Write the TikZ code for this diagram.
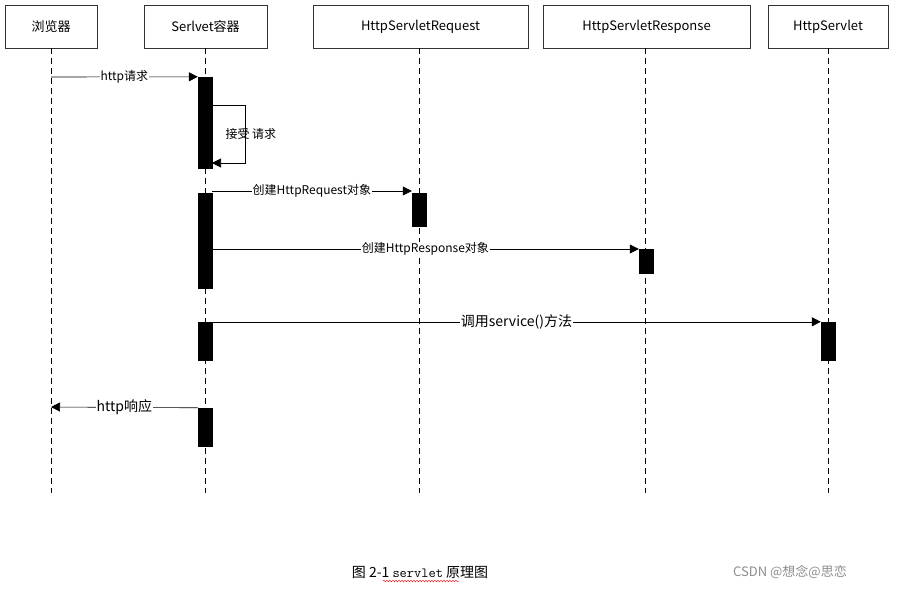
\documentclass[tikz,border=0pt]{standalone}
\usepackage{fontspec}
\setmainfont{Noto Sans CJK SC}
\usetikzlibrary{arrows.meta,decorations.pathmorphing}
\begin{document}
\begin{tikzpicture}[x=1pt,y=-1pt,
  hbox/.style={draw=black!80,line width=0.8pt,minimum height=43pt,inner sep=0pt,font=\fontsize{13}{15}\selectfont},
  life/.style={line width=0.8pt,dash pattern=on 6pt off 4pt},
  act/.style={fill=black,draw=black,minimum width=14pt,inner sep=0pt},
  msg/.style={line width=0.6pt,-{Triangle[length=9pt,width=9pt]}},
  lbl/.style={fill=white,inner sep=1pt,font=\fontsize{12}{14}\selectfont}]
\useasboundingbox (0,0) rectangle (898,591);
\node[hbox,minimum width=92pt] (b) at (51,26.5) {浏览器};
\node[hbox,minimum width=123pt] (s) at (205.5,26.5) {Serlvet容器};
\node[hbox,minimum width=215pt] (rq) at (420.5,26.5) {HttpServletRequest};
\node[hbox,minimum width=207pt] (rs) at (646.5,26.5) {HttpServletResponse};
\node[hbox,minimum width=120pt] (hs) at (828,26.5) {HttpServlet};
\foreach \n/\x in {b/51,s/205,rq/419,rs/645,hs/828}{
  \coordinate (e\n) at (\x,493);
  \draw[life] (\x,48) -- (e\n);
}
\node[act,minimum height=91pt] (a1) at (205,122.5) {};
\node[act,minimum height=95pt] (a2) at (205,240.5) {};
\node[act,minimum height=38pt] (a3) at (205,341) {};
\node[act,minimum height=38pt] (a4) at (205,427) {};
\node[act,minimum height=33pt] (q1) at (419,209.5) {};
\node[act,minimum height=24pt] (r1) at (646,261) {};
\node[act,minimum height=38pt] (h1) at (828,341) {};
\coordinate (bb1) at (51,77);
\coordinate (bb2) at (51,407);
\draw[msg] (bb1) -- node[lbl]{http请求} (a1.north west);
\coordinate (l1) at (212,105);
\coordinate (l2) at (245,105);
\coordinate (l3) at (245,163);
\coordinate (l4) at (212,163);
\draw[msg] (l1) -- (l2) -- (l3) -- (l4);
\node[font=\fontsize{12}{14}\selectfont,anchor=west] (t1) at (222,134) {接受 请求};
\coordinate (c1) at (212,191);
\draw[msg] (c1) -- node[lbl]{创建HttpRequest对象} (c1 -| q1.west);
\coordinate (c2) at (212,249);
\draw[msg] (c2) -- node[lbl]{创建HttpResponse对象} (c2 -| r1.west);
\draw[msg] (a3.north east) -- node[lbl,font=\fontsize{14}{16}\selectfont]{调用service()方法} (h1.north west);
\draw[msg] (a4.north west) -- node[lbl,font=\fontsize{14}{16}\selectfont]{http响应} (bb2);
\node[font=\fontsize{14}{16}\selectfont] (cap) at (420,572) {图 2-1 \texttt{servlet} 原理图};
\draw[red,line width=0.4pt,decorate,decoration={snake,amplitude=0.8pt,segment length=3pt}] (383,581) -- (459,581);
\node[font=\fontsize{13}{15}\selectfont,text=black!45] (wm) at (790,572) {CSDN @想念@思恋};
\end{tikzpicture}
\end{document}
